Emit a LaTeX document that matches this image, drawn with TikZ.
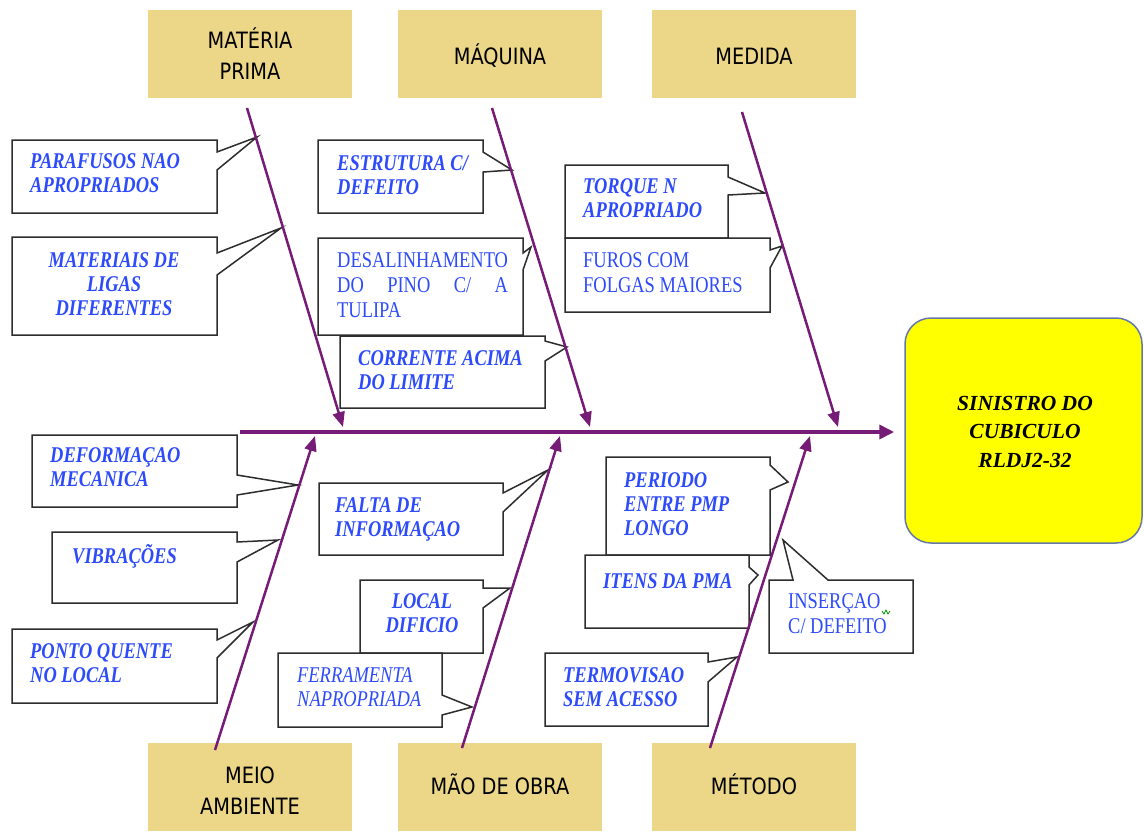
\documentclass[tikz,border=0pt]{standalone}
\usepackage{fontspec}
\usepackage{calc}
\usetikzlibrary{arrows.meta}
\newfontfamily\lblfont{Liberation Serif}[FakeStretch=0.82]
\newfontfamily\effectfont{Liberation Serif}
\newfontfamily\hdrfont{DejaVu Sans}[FakeStretch=0.86]
\definecolor{hdrfill}{RGB}{235,215,135}
\definecolor{bone}{RGB}{118,28,118}
\definecolor{lblblue}{RGB}{45,75,250}
\definecolor{effectfill}{RGB}{255,255,0}
\definecolor{effectdraw}{RGB}{100,120,170}
\definecolor{boxline}{RGB}{45,45,45}
\newcommand\lnl[1]{\begin{tabular}[t]{@{}l@{}}#1\end{tabular}}
\newcommand\lnc[1]{\begin{tabular}[t]{@{}c@{}}#1\end{tabular}}
% callout with a wedge on the right edge: x1,y1,x2,y2,notch top,notch bottom,tip
\newcommand\calloutR[8]{%
  \draw[callbox] (#1,#2) -- (#3,#2) -- (#3,#5) -- (#7,#8) -- (#3,#6) -- (#3,#4) -- (#1,#4) -- cycle;}
\begin{document}
\begin{tikzpicture}[x=1pt,y=-1pt,
  hdrbox/.style={fill=hdrfill, draw=none, minimum width=204pt, minimum height=88pt, inner sep=0pt},
  hdrtxt/.style={font=\hdrfont\fontsize{22.5}{31}\selectfont, text=black, inner sep=0pt, anchor=base},
  callbox/.style={draw=boxline, line width=1.5pt, fill=white, line join=miter},
  lbl/.style={font=\lblfont\fontsize{22.5}{24}\selectfont\bfseries\itshape, text=lblblue, inner sep=0pt, anchor=base west},
  lblr/.style={font=\lblfont\fontsize{22.5}{25}\selectfont, text=lblblue, inner sep=0pt, anchor=base west},
  lbli/.style={font=\lblfont\fontsize{22.5}{24}\selectfont\itshape, text=lblblue, inner sep=0pt, anchor=base west},
  bonearrow/.style={draw=bone, line width=2.5pt, -{Triangle[length=15pt,width=12pt]}},
  spine/.style={draw=bone, line width=4pt, -{Triangle[length=15pt,width=14pt]}}]
\useasboundingbox (0,0) rectangle (1144,831);
\fill[white] (0,0) rectangle (1144,831);

% category boxes
\node[hdrbox] (mp) at (250,54) {};
\node[hdrbox] (maq) at (500,54) {};
\node[hdrbox] (med) at (754,54) {};
\node[hdrbox] (mei) at (250,787) {};
\node[hdrbox] (mao) at (500,787) {};
\node[hdrbox] (met) at (754,787) {};
\node[hdrtxt] (mpt) at (250,48) {\lnc{MATÉRIA\\PRIMA}};
\node[hdrtxt] (maqt) at (500,64) {MÁQUINA};
\node[hdrtxt] (medt) at (754,64) {MEDIDA};
\node[hdrtxt] (meit) at (250,783) {\lnc{MEIO\\AMBIENTE}};
\node[hdrtxt] (maot) at (500,794) {MÃO DE OBRA};
\node[hdrtxt] (mett) at (754,794) {MÉTODO};

% effect box
\node[draw=effectdraw, line width=1.5pt, fill=effectfill, rounded corners=26pt,
      minimum width=237pt, minimum height=225pt, inner sep=0pt] (effect) at (1023.5,430.5) {};
\node[font=\effectfont\fontsize{21.5}{28.5}\selectfont\bfseries\itshape, inner sep=0pt, anchor=base]
      (effectt) at (1025,410) {\lnc{SINISTRO DO\\CUBICULO\\RLDJ2-32}};

% callouts: materia prima
\calloutR{12}{140}{217}{213}{152}{170}{257}{137}
\node[lbl] (c1) at (30,168) {\lnl{PARAFUSOS NAO\\APROPRIADOS}};
\calloutR{12}{237}{217}{335}{253}{275}{281}{228}
\node[lbl, anchor=base] (c2) at (114,267) {\lnc{MATERIAIS DE\\LIGAS\\DIFERENTES}};

% callouts: maquina
\calloutR{318}{140}{483}{213}{152}{172}{512}{170}
\node[lbl] (c3) at (337,170) {\lnl{ESTRUTURA C/\\DEFEITO}};
\calloutR{318}{238}{523}{335}{253}{270}{531}{247}
\node[lblr] (c4) at (337,267) {\lnl{DESALINHAMENTO\\\makebox[\widthof{DESALINHAMENTO}][s]{DO PINO C/ A}\\TULIPA}};
\calloutR{340}{336}{545}{408}{341}{361}{567}{347}
\node[lbl] (c5) at (358,365) {\lnl{CORRENTE ACIMA\\DO LIMITE}};

% callouts: medida
\calloutR{565}{165}{728}{238}{177}{195}{765}{193}
\node[lbl] (c6) at (583,193) {\lnl{TORQUE N\\APROPRIADO}};
\calloutR{565}{238}{770}{312}{250}{268}{782}{246}
\node[lblr] (c7) at (583,267) {\lnl{FUROS COM\\FOLGAS MAIORES}};

% callouts: meio ambiente
\calloutR{32}{435}{237}{507}{475}{495}{298}{485}
\node[lbl] (c8) at (50,462) {\lnl{DEFORMAÇAO\\MECANICA}};
\calloutR{52}{532}{237}{603}{542}{562}{278}{540}
\node[lbl] (c9) at (72,563) {VIBRAÇÕES};
\calloutR{12}{629}{217}{703}{640}{658}{253}{622}
\node[lbl] (c10) at (30,658) {\lnl{PONTO QUENTE\\NO LOCAL}};

% callouts: mao de obra
\calloutR{319}{483}{503}{555}{493}{512}{548}{470}
\node[lbl] (c11) at (335,512) {\lnl{FALTA DE\\INFORMAÇAO}};
\calloutR{360}{580}{483}{653}{588}{608}{510}{588}
\node[lbl, anchor=base] (c12) at (422,608) {\lnc{LOCAL\\DIFICIO}};
\calloutR{278}{653}{442}{727}{695}{715}{472}{707}
\node[lbli] (c13) at (297,682) {\lnl{FERRAMENTA\\NAPROPRIADA}};

% callouts: metodo
\calloutR{606}{457}{770}{555}{465}{490}{788}{482}
\node[lbl] (c14) at (624,487) {\lnl{PERIODO\\ENTRE PMP\\LONGO}};
\calloutR{585}{555}{749}{628}{567}{585}{758}{575}
\node[lbl] (c15) at (603,588) {ITENS DA PMA};
\draw[callbox] (769,580) -- (793,580) -- (783,540) -- (828,580) -- (913,580) -- (913,653) -- (769,653) -- cycle;
\node[lblr] (c16) at (788,608) {\lnl{INSERÇAO\\C/ DEFEITO}};
\draw[green!60!black, line width=0.8pt] (882,611) -- (884,614) -- (886,610) -- (888,614) -- (890,611);
\calloutR{545}{653}{708}{726}{662}{682}{737}{657}
\node[lbl] (c17) at (563,682) {\lnl{TERMOVISAO\\SEM ACESSO}};

% bones
\coordinate (b1s) at (247,108); \coordinate (b1e) at (343,427);
\coordinate (b2s) at (492,108); \coordinate (b2e) at (590,427);
\coordinate (b3s) at (742,112); \coordinate (b3e) at (838,427);
\coordinate (b4s) at (215,750); \coordinate (b4e) at (315,436);
\coordinate (b5s) at (462,748); \coordinate (b5e) at (560,436);
\coordinate (b6s) at (710,748); \coordinate (b6e) at (810,436);
\foreach \b in {1,...,6} \draw[bonearrow] (b\b s) -- (b\b e);

% spine
\coordinate (sp0) at (240,432);
\draw[spine, shorten >=10pt] (sp0) -- (sp0 -| effect.west);
\end{tikzpicture}
\end{document}
